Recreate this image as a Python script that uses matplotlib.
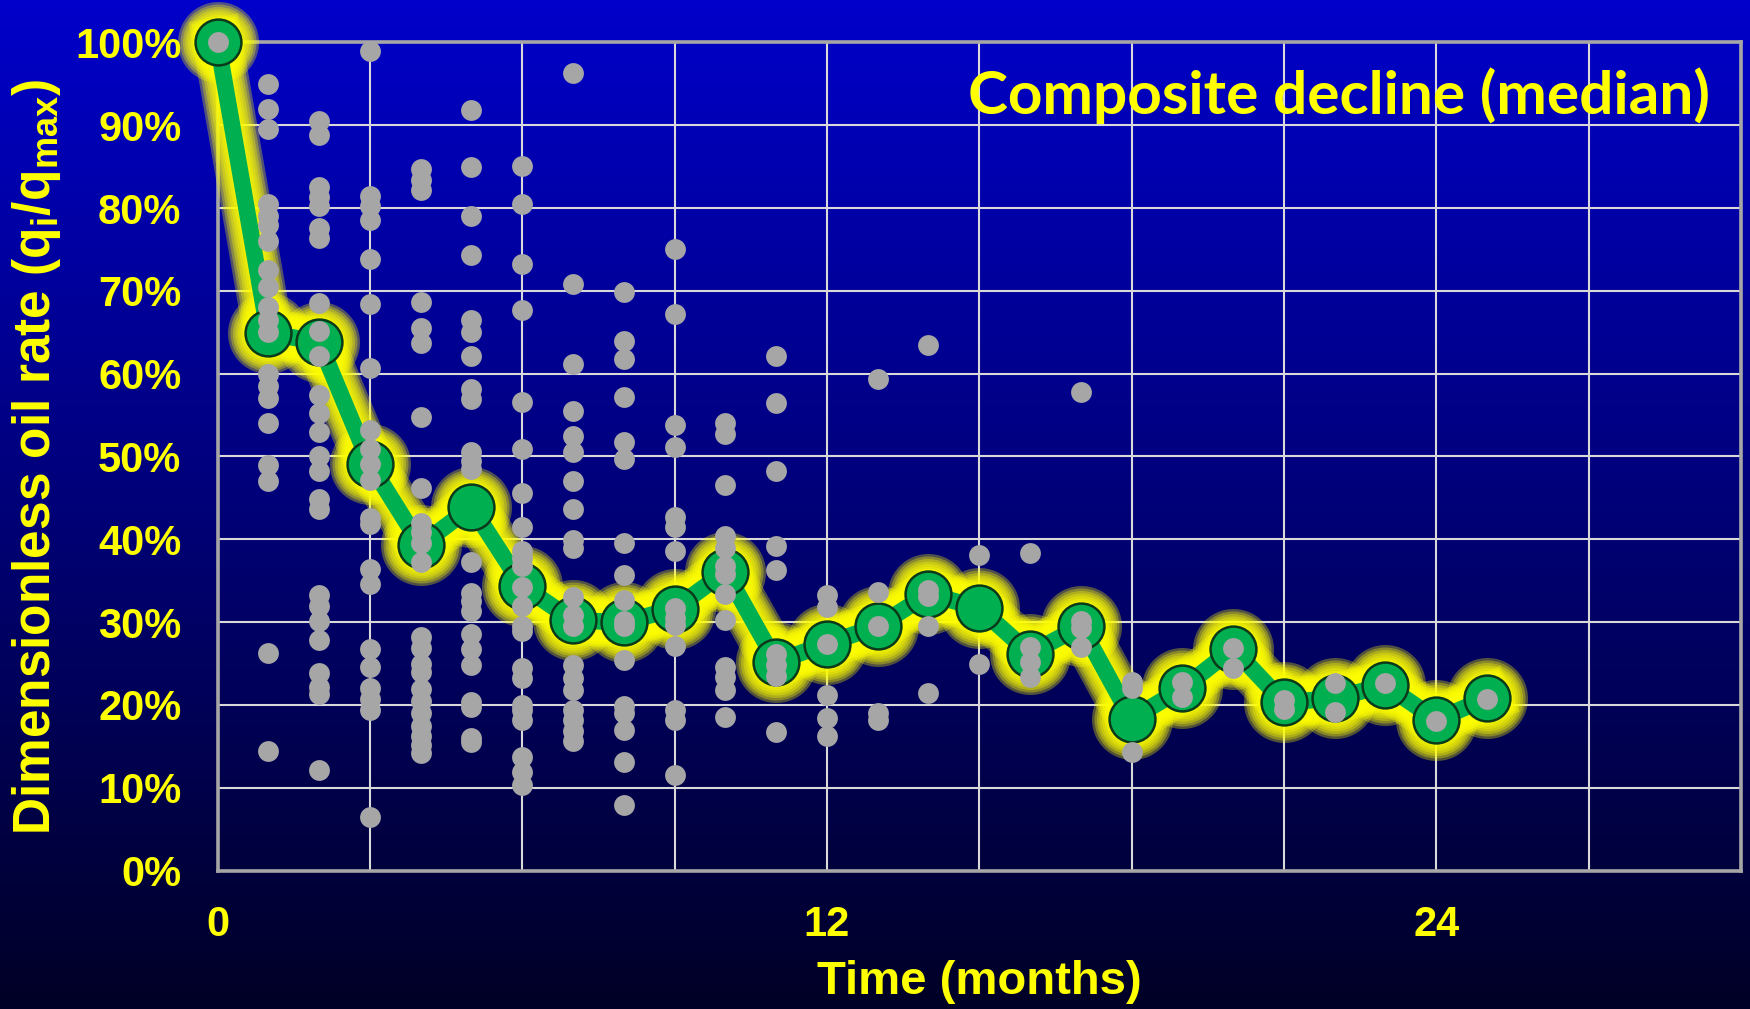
import numpy as np
import matplotlib.pyplot as plt
from matplotlib.colors import LinearSegmentedColormap

# median composite decline, % of peak rate, month 0..25
months = list(range(26))
median_rate = [100, 64.9, 63.8, 49.1, 39.3, 43.9, 34.4, 30.2, 30.0, 31.6, 36.1, 25.2, 27.4,
               29.5, 33.4, 31.7, 26.2, 29.5, 18.3, 22.0, 26.8, 20.3, 20.8, 22.4, 18.2, 20.8]

# individual wells, one list per month
well_rates = [
    [100],
    [95, 92, 89.5, 80.5, 79, 78, 76, 72.5, 70.5, 68, 66.5, 65, 60, 58.5, 57, 54, 49, 47, 26.3, 14.4],
    [90.5, 88.8, 82.5, 81.3, 80.3, 77.6, 76.4, 68.5, 65.1, 62.1, 57.4, 55.3, 53, 50, 48.3, 44.9,
     43.6, 33.3, 31.9, 30.1, 27.9, 23.9, 22.2, 21.3, 12.1],
    [99, 81.5, 80.2, 78.6, 73.8, 68.4, 60.7, 53.2, 50.9, 49.1, 47.2, 42.6, 41.8, 36.4, 34.6,
     26.7, 24.6, 22.1, 20.7, 19.4, 6.5],
    [84.7, 83.4, 82.2, 68.6, 65.5, 63.7, 54.8, 46.2, 42, 40.9, 39.5, 37.3, 28.2, 26.9, 25, 24,
     21.9, 20.5, 19, 17.5, 16.3, 15.2, 14.2],
    [91.8, 84.9, 79.0, 74.3, 66.5, 65, 62.1, 58.2, 56.9, 50.6, 49.5, 48.5, 37.3, 33.5, 32.5,
     31.4, 28.6, 26.7, 24.8, 20.4, 19.7, 16, 15.5],
    [85.1, 80.5, 73.3, 67.7, 56.6, 50.9, 45.6, 41.5, 38.6, 37.7, 36.8, 34.2, 32, 29.5, 28.9,
     24.5, 23.2, 20, 19.4, 18.2, 13.7, 11.9, 10.3],
    [96.3, 70.8, 61.2, 55.5, 52.5, 50.6, 47, 43.7, 39.9, 39, 33, 30.8, 29.5, 24.8, 23.2, 21.8,
     19.4, 18.2, 16.9, 15.6],
    [69.9, 63.9, 61.8, 57.2, 51.7, 49.7, 39.6, 35.7, 32.7, 30.1, 29.5, 25.4, 19.9, 19, 17, 13.1, 7.9],
    [75.1, 67.2, 53.8, 51.1, 42.7, 41.5, 38.6, 31.7, 30.5, 29.6, 27.1, 19.4, 18.2, 11.5],
    [54.1, 52.7, 46.5, 40.4, 39, 36.8, 35.8, 33.4, 30.3, 24.6, 23.4, 21.8, 18.6],
    [62.1, 56.4, 48.3, 39.2, 36.3, 26.1, 24.8, 23.5, 16.7],
    [33.3, 31.8, 27.4, 21.2, 18.4, 16.2],
    [59.4, 33.6, 29.5, 19, 18.2],
    [63.4, 33.9, 33.1, 29.5, 21.5],
    [38.1, 25],
    [38.4, 27, 25.2, 23.4],
    [57.8, 30.1, 29.3, 27],
    [22.8, 22, 14.3],
    [22.8, 21],
    [26.9, 24.5],
    [20.6, 19.5],
    [22.7, 19.2],
    [22.6],
    [18.1],
    [20.7],
]

x_ticks = list(range(0, 31, 3))
x_ticklabels = ['0', '', '', '', '12', '', '', '', '24', '', '']
y_ticks = list(range(0, 101, 10))
y_ticklabels = [f'{v}%' for v in y_ticks]

yellow = '#FFFF00'
green = '#00B050'
grey = '#A6A6A6'
bold_font = ['Liberation Sans', 'DejaVu Sans']

fig = plt.figure(figsize=(17.5, 10.09), dpi=100)

# gradient background
bg = fig.add_axes([0, 0, 1, 1], zorder=-10)
cmap = LinearSegmentedColormap.from_list('bg', ['#0000CA', '#000026'])
bg.imshow(np.linspace(0, 1, 256).reshape(-1, 1), aspect='auto', cmap=cmap,
          extent=[0, 1, 0, 1], origin='upper')
bg.axis('off')

ax = fig.add_axes([0.1243, 0.1372, 0.8705, 0.8208])
ax.patch.set_alpha(0)
ax.set_xlim(0, 30)
ax.set_ylim(0, 100)
ax.set_axisbelow(True)
ax.grid(True, color='#D9D9D9', lw=1.5)
for s in ax.spines.values():
    s.set_color(grey)
    s.set_linewidth(2.6)

ax.set_xticks(x_ticks)
ax.set_xticklabels(x_ticklabels)
ax.set_yticks(y_ticks)
ax.set_yticklabels(y_ticklabels)
ax.tick_params(length=0, labelsize=30, labelcolor=yellow)
ax.tick_params(axis='y', pad=26)
ax.tick_params(axis='x', pad=25)
for lab in ax.get_xticklabels() + ax.get_yticklabels():
    lab.set_family(bold_font)
    lab.set_fontweight('bold')

# yellow glow under the median line
for k in range(7):
    extra = 34 - 5 * k
    ax.plot(months, median_rate, '-o', color=yellow, alpha=0.32,
            lw=(16 + extra) * 0.72, ms=(47 + extra) * 0.72, mec='none',
            solid_joinstyle='round', zorder=3, clip_on=False)

ax.plot(months, median_rate, '-', color=green, lw=12, solid_joinstyle='round',
        zorder=4, clip_on=False)
ax.plot(months, median_rate, 'o', color=green, ms=33, mec='#0A3A1A', mew=1.8,
        zorder=5, clip_on=False)

# individual wells
for m, vals in enumerate(well_rates):
    ax.plot([m] * len(vals), vals, 'o', ms=15, color=grey, mec='none',
            zorder=6, clip_on=False)

ax.text(0.98, 0.936, 'Composite decline (median)', transform=ax.transAxes,
        ha='right', va='center', color=yellow, fontsize=43.5,
        family=['Lato', 'DejaVu Sans'], fontweight='bold')

fig.text(0.5597, 0.015, 'Time (months)', ha='center', va='baseline', color=yellow,
         fontsize=34, family=bold_font, fontweight='bold')
fig.text(0.021, 0.547, r'Dimensionless oil rate (q$_\mathregular{i}$/q$_\mathregular{max}$)',
         rotation=90, ha='center', va='center', color=yellow, fontsize=37,
         family=bold_font, fontweight='bold')

fig.savefig('out.png', dpi=100)
